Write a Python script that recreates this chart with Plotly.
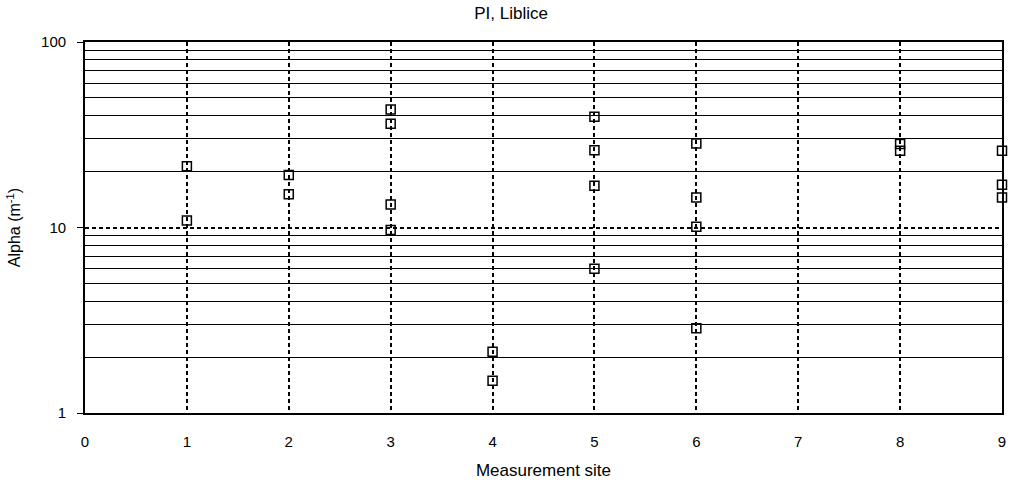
import plotly.graph_objects as go

# Data
sites = [1, 1, 2, 2, 3, 3, 3, 3, 4, 4, 5, 5, 5, 5, 6, 6, 6, 6, 8, 8, 9, 9, 9]
alpha = [21.4, 10.9, 19.2, 15.1, 43.2, 36.3, 13.3, 9.7, 2.14, 1.49,
         39.5, 26.1, 16.8, 6.0, 28.4, 14.5, 10.1, 2.86, 28.2, 25.9, 25.9, 17.0, 14.5]

x_ticks = [0, 1, 2, 3, 4, 5, 6, 7, 8, 9]
y_major = [1, 10, 100]
y_minor = [2, 3, 4, 5, 6, 7, 8, 9, 20, 30, 40, 50, 60, 70, 80, 90]

FONT = "Liberation Sans, Arial, sans-serif"

fig = go.Figure()
fig.add_trace(go.Scatter(
    x=sites, y=alpha, mode="markers",
    marker=dict(symbol="square-open", size=9, color="black", line=dict(width=1.5, color="black")),
    showlegend=False, cliponaxis=False,
))

fig.update_layout(
    width=1012, height=483,
    margin=dict(l=85, r=6, t=42, b=68),
    paper_bgcolor="white", plot_bgcolor="white",
    font=dict(family=FONT, size=15, color="black"),
    title=dict(text="PI, Liblice", x=0.505, xref="container", y=0.973, yref="container",
               xanchor="center", yanchor="middle", font=dict(size=17)),
    xaxis=dict(
        range=[0, 9], tickmode="array", tickvals=x_ticks,
        showline=True, linecolor="black", linewidth=1.8, mirror=True,
        showgrid=True, gridcolor="black", gridwidth=1.5, griddash="4px,3px",
        ticks="", ticklabelstandoff=14, zeroline=False,
        tickfont=dict(size=15),
        title=dict(text="Measurement site", standoff=15, font=dict(size=17)),
    ),
    yaxis=dict(
        type="log", range=[0, 2], tickmode="array", tickvals=y_major,
        ticktext=[str(v) for v in y_major],
        showline=True, linecolor="black", linewidth=1.8, mirror=True,
        ticks="outside", ticklen=6, tickcolor="black", tickwidth=1.3,
        showgrid=True, gridcolor="black", gridwidth=1.5, griddash="4px,3px",
        ticklabelstandoff=8, zeroline=False,
        tickfont=dict(size=15),
        minor=dict(tickmode="array", tickvals=y_minor, showgrid=True,
                   gridcolor="black", gridwidth=1.2, griddash="solid", ticks=""),
        title=dict(text="Alpha (m<sup>-1</sup>)", standoff=16, font=dict(size=16)),
    ),
)

fig.write_html("out.html")
